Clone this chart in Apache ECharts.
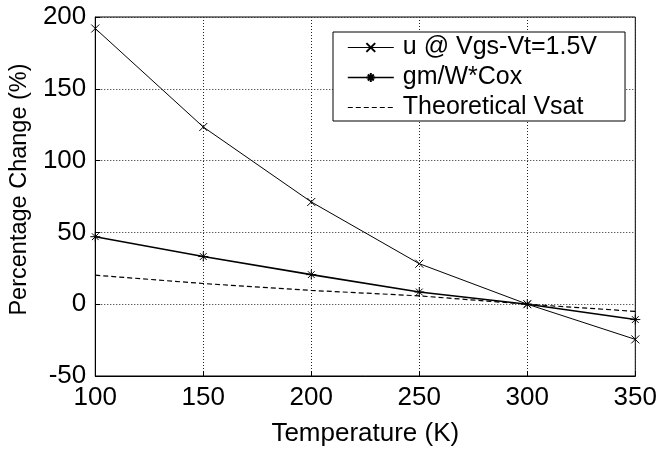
<!DOCTYPE html>
<html><head><meta charset="utf-8">
<script src="https://cdn.jsdelivr.net/npm/echarts@6/dist/echarts.min.js"></script>
<style>html,body{margin:0;padding:0;background:#fff}#c{width:660px;height:452px}</style>
</head><body><div id="c"></div>
<script>
const temperatures = [100, 150, 200, 250, 300, 350];
const muValues = [192, 123.4, 71.2, 28.2, 0, -24.5];
const gmValues = [47, 33.2, 20.6, 8.5, 0, -10.7];
const vsatValues = [20.2, 14.4, 9.6, 5.8, 0, -5.0];
const seriesNames = ['u @ Vgs-Vt=1.5V', 'gm/W*Cox', 'Theoretical Vsat'];
const xTicks = [100, 150, 200, 250, 300, 350];
const yTicks = [-50, 0, 50, 100, 150, 200];

const pair = (xs, ys) => xs.map((x, i) => [x, ys[i]]);
const xSym = 'path://M0,0L10,10M10,0L0,10';
const starSym = 'path://M5,0L5,10M0,5L10,5M1.6,1.6L8.4,8.4M8.4,1.6L1.6,8.4';
const blankSym = 'path://M0,0L10,0L10,10L0,10Z';
const font = 'Liberation Sans, Arial, sans-serif';

const chart = echarts.init(document.getElementById('c'), null, {renderer: 'canvas'});
chart.setOption({
  animation: false,
  backgroundColor: '#fff',
  grid: {left: 95, right: 23, top: 17, bottom: 71, show: true, borderColor: '#000', borderWidth: 1, backgroundColor: 'transparent'},
  legend: {
    left: 333, top: 32, orient: 'vertical',
    backgroundColor: '#fff', borderColor: '#000', borderWidth: 1,
    padding: [3, 28, 1, 14], itemGap: 5, itemWidth: 46, itemHeight: 11,
    textStyle: {fontFamily: font, fontSize: 25, color: '#000', padding: [0, 0, 0, 4]},
    data: [
      {name: seriesNames[0], lineStyle: {width: 1}},
      {name: seriesNames[1], lineStyle: {width: 1.6}},
      {name: seriesNames[2], lineStyle: {width: 1}}
    ]
  },
  xAxis: {
    type: 'value', min: 100, max: 350, interval: 50,
    name: 'Temperature (K)', nameLocation: 'middle', nameGap: 45,
    nameTextStyle: {fontFamily: font, fontSize: 26, color: '#000'},
    axisLine: {onZero: false, lineStyle: {color: '#000', width: 1}},
    axisTick: {inside: true, length: 5, lineStyle: {color: '#000'}},
    axisLabel: {fontFamily: font, fontSize: 26, color: '#000', margin: 9,
      formatter: v => xTicks.includes(v) ? String(v) : ''},
    splitLine: {show: true, lineStyle: {color: '#222', type: [1, 2], width: 1}}
  },
  yAxis: {
    type: 'value', min: -50, max: 200, interval: 50,
    name: 'Percentage Change (%)', nameLocation: 'middle', nameGap: 48,
    nameTextStyle: {fontFamily: font, fontSize: 23.5, color: '#000', padding: [0, 0, 0, 14]},
    axisLine: {show: true, onZero: false, lineStyle: {color: '#000', width: 1}},
    axisTick: {show: true, inside: true, length: 5, lineStyle: {color: '#000'}},
    axisLabel: {fontFamily: font, fontSize: 26, color: '#000', margin: 9,
      formatter: v => yTicks.includes(v) ? String(v) : ''},
    splitLine: {show: true, lineStyle: {color: '#222', type: [1, 2], width: 1}}
  },
  series: [
    {name: seriesNames[0], type: 'line', data: pair(temperatures, muValues),
      symbol: xSym, symbolSize: 8, showAllSymbol: true,
      lineStyle: {color: '#000', width: 1},
      itemStyle: {color: 'none', borderColor: '#000', borderWidth: 1}},
    {name: seriesNames[1], type: 'line', data: pair(temperatures, gmValues),
      symbol: starSym, symbolSize: 10, showAllSymbol: true,
      lineStyle: {color: '#000', width: 1.6},
      itemStyle: {color: 'none', borderColor: '#000', borderWidth: 1}},
    {name: seriesNames[2], type: 'line', data: pair(temperatures, vsatValues),
      symbol: blankSym, showSymbol: false, symbolSize: 1,
      lineStyle: {color: '#000', width: 1.2, type: [5, 3]},
      itemStyle: {color: 'transparent', borderColor: 'transparent', borderWidth: 0}}
  ]
});
</script></body></html>
